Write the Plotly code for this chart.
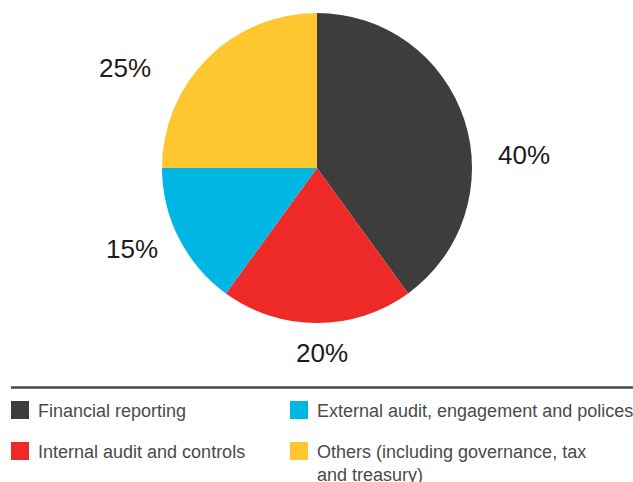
import plotly.graph_objects as go

# Share of audit committee time by topic (%)
categories = [
    "Financial reporting",
    "Internal audit and controls",
    "External audit, engagement and polices",
    "Others (including governance, tax<br>and treasury)",
]
shares = [40, 20, 15, 25]
colors = ["#3d3d3d", "#ed2a28", "#00b7e3", "#fec62f"]

# Legend grid order (row by row)
legend_order = [0, 2, 1, 3]

W, H = 633, 482


def px(x):
    return x / W


def py(y):
    return 1 - y / H


fig = go.Figure()
fig.add_trace(
    go.Pie(
        labels=categories,
        values=shares,
        sort=False,
        direction="clockwise",
        rotation=0,
        marker=dict(colors=colors, line=dict(width=0)),
        textinfo="none",
        hoverinfo="label+percent",
        showlegend=False,
        domain=dict(x=[px(317 - 155), px(317 + 155)], y=[py(323), py(13)]),
    )
)

# Percentage labels around the pie
label_pos = [(524, 155), (322, 353), (132, 249), (125, 68)]
annotations = []
for v, (lx, ly) in zip(shares, label_pos):
    annotations.append(
        dict(
            x=px(lx), y=py(ly), xref="paper", yref="paper",
            text=f"{v}%", showarrow=False,
            xanchor="center", yanchor="middle",
            font=dict(family="Liberation Sans, Arial, sans-serif", size=26, color="#1e1b1c"),
        )
    )

shapes = [
    dict(type="line", xref="paper", yref="paper",
         x0=px(11), x1=px(633), y0=py(387.5), y1=py(387.5),
         line=dict(color="#4a4a4a", width=2.5)),
]

# Custom two-column legend
col_x = [11, 290]
row_y = [410, 451]
for slot, idx in enumerate(legend_order):
    r, c = divmod(slot, 2)
    sx, sy = col_x[c], row_y[r]
    shapes.append(
        dict(type="rect", xref="paper", yref="paper",
             x0=px(sx), x1=px(sx + 18), y0=py(sy + 9), y1=py(sy - 9),
             fillcolor=colors[idx], line=dict(width=0))
    )
    annotations.append(
        dict(
            x=px(sx + 25), y=py(sy - 11), xref="paper", yref="paper",
            text=categories[idx], showarrow=False, align="left",
            xanchor="left", yanchor="top",
            font=dict(family="Liberation Sans, Arial, sans-serif", size=18, color="#4a4a4a"),
        )
    )

fig.update_layout(
    width=W, height=H,
    margin=dict(l=0, r=0, t=0, b=0),
    paper_bgcolor="white", plot_bgcolor="white",
    shapes=shapes, annotations=annotations,
)

fig.write_html("out.html")
